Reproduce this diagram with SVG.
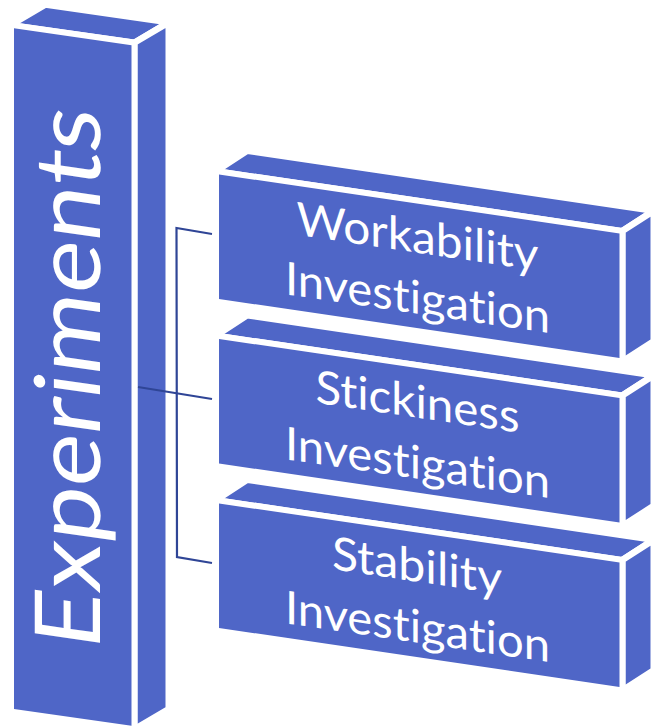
<svg xmlns="http://www.w3.org/2000/svg" width="654" height="727" viewBox="0 0 654 727">
  <style>
    .face { fill: #4F66C7; stroke: #FFFFFF; stroke-width: 6; stroke-linejoin: miter; }
    .label { fill: #FFFFFF; font-family: Lato, "Open Sans", "Liberation Sans", sans-serif; text-anchor: middle; font-variant-ligatures: none; font-feature-settings: "liga" 0, "clig" 0; }
    .title { font-size: 91px; }
    .item { font-size: 46px; }
    .conn { fill: none; stroke: #2F4596; stroke-width: 2.2; }
  </style>
  <rect width="654" height="727" fill="#FFFFFF"/>

  <!-- Parent block: tall slab, drawn in a sheared frame -->
  <g id="node-experiments" transform="matrix(1,0.143,0,1,11,24.9)">
    <polygon class="face" points="0,0 123.5,0 157.5,-24.9 34,-24.9"/>
    <polygon class="face" points="123.5,0 157.5,-24.9 157.5,661.8 123.5,686.7"/>
    <rect class="face" x="0" y="0" width="123.5" height="686.7"/>
    <text class="label title" transform="translate(89,344) rotate(-90)" x="0" y="0" textLength="540" lengthAdjust="spacingAndGlyphs">Experiments</text>
  </g>

  <!-- Child blocks -->
  <g id="node-workability" transform="matrix(1,0.1475,0,1,216,171)">
    <polygon class="face" points="0,0 406.5,0 437.5,-24.6 31,-24.6"/>
    <polygon class="face" points="406.5,0 437.5,-24.6 437.5,105.9 406.5,130.5"/>
    <rect class="face" x="0" y="0" width="406.5" height="130.5"/>
    <text class="label item" x="201.5" y="52" textLength="242" lengthAdjust="spacingAndGlyphs">Workability</text>
    <text class="label item" x="201.5" y="113" textLength="265" lengthAdjust="spacingAndGlyphs">Investigation</text>
  </g>

  <g id="node-stickiness" transform="matrix(1,0.1475,0,1,216,335.5)">
    <polygon class="face" points="0,0 406.5,0 437.5,-24.6 31,-24.6"/>
    <polygon class="face" points="406.5,0 437.5,-24.6 437.5,105.9 406.5,130.5"/>
    <rect class="face" x="0" y="0" width="406.5" height="130.5"/>
    <text class="label item" x="201.5" y="52.5" textLength="204" lengthAdjust="spacingAndGlyphs">Stickiness</text>
    <text class="label item" x="201.5" y="113.5" textLength="265" lengthAdjust="spacingAndGlyphs">Investigation</text>
  </g>

  <g id="node-stability" transform="matrix(1,0.1475,0,1,216,500)">
    <polygon class="face" points="0,0 406.5,0 437.5,-24.6 31,-24.6"/>
    <polygon class="face" points="406.5,0 437.5,-24.6 437.5,105.9 406.5,130.5"/>
    <rect class="face" x="0" y="0" width="406.5" height="130.5"/>
    <text class="label item" x="201" y="52" textLength="170" lengthAdjust="spacingAndGlyphs">Stability</text>
    <text class="label item" x="201.5" y="113" textLength="265" lengthAdjust="spacingAndGlyphs">Investigation</text>
  </g>

  <!-- Bracket connectors -->
  <g id="connectors">
    <path class="conn" d="M212,234 L176.5,228 L177,557 L212,563"/>
    <path class="conn" d="M138,387 L212,399"/>
  </g>
</svg>
